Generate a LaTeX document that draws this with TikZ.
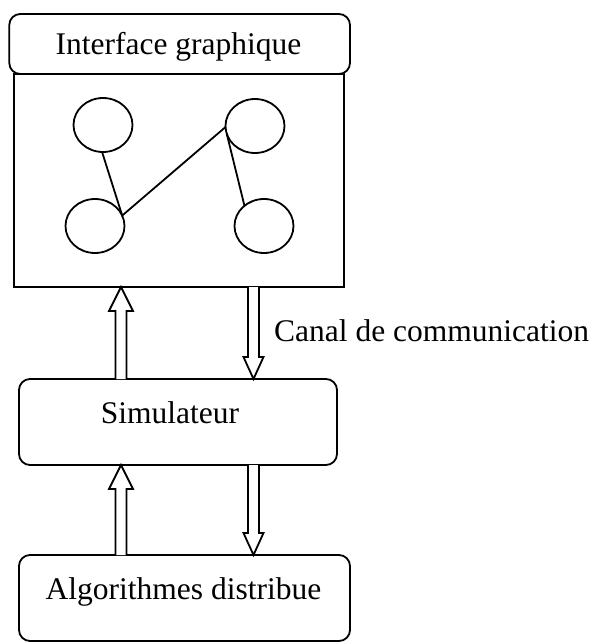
\documentclass[tikz,border=0pt]{standalone}
\usepackage{fontspec}
\setmainfont{Liberation Serif}
\usetikzlibrary{shapes.geometric,calc}
\tikzset{
  boxline/.style={draw, line width=1.8pt, inner sep=0pt, outer sep=0pt, fill=white},
  rbox/.style={boxline, rectangle, rounded corners=11pt},
  sbox/.style={boxline, rectangle},
  vert/.style={draw, ellipse, line width=1.8pt, inner sep=0pt, outer sep=0pt, minimum width=59pt, minimum height=54pt},
  edge/.style={draw, line width=1.8pt},
  harrow/.style={draw, line width=1.8pt, fill=white, line join=miter},
  lbl/.style={font=\fontsize{31.5}{36}\selectfont, inner sep=0pt, anchor=base}
}
\newcommand\arrUpward[2]{%
  \draw[harrow] let \p1=(#1), \p2=(#2) in
    (\x1-5.5pt,\y1) -- (\x1-5.5pt,\y2-24pt) -- (\x1-12pt,\y2-24pt) -- (\x2,\y2)
    -- (\x1+12pt,\y2-24pt) -- (\x1+5.5pt,\y2-24pt) -- (\x1+5.5pt,\y1);}
\newcommand\arrDownward[2]{%
  \draw[harrow] let \p1=(#1), \p2=(#2) in
    (\x1-5.5pt,\y1) -- (\x1-5.5pt,\y2+22pt) -- (\x1-10pt,\y2+22pt) -- (\x2,\y2)
    -- (\x1+10pt,\y2+22pt) -- (\x1+5.5pt,\y2+22pt) -- (\x1+5.5pt,\y1);}
\begin{document}
\begin{tikzpicture}[x=1pt,y=-1pt]
\useasboundingbox (0,0) rectangle (592,644);
% boxes
\node[sbox, minimum width=330pt, minimum height=213pt] (gui) at (179,180.5) {};
\node[rbox, minimum width=340.7pt, minimum height=60pt] (ig) at (179.65,44) {};
\node[lbl] (igtxt) at (178.5,55) {Interface graphique};
\node[rbox, minimum width=318pt, minimum height=86pt] (sim) at (178,422) {};
\node[lbl] (simtxt) at (170,423) {Simulateur};
\node[rbox, minimum width=331pt, minimum height=86pt] (alg) at (184.5,598) {};
\node[lbl] (algtxt) at (183.5,599) {Algorithmes distribue};
% graph
\node[vert] (e1) at (103,125) {};
\node[vert] (e2) at (95,226) {};
\node[vert] (e3) at (255,126) {};
\node[vert] (e4) at (264,226) {};
\draw[edge] (e1.-92) -- (e2.21) -- (e3.182);
\draw[edge] (e3.195) -- (e4.134);
% arrows
\coordinate (xl) at (121,0);
\coordinate (xr) at (253.5,0);
\arrUpward{xl |- sim.north}{xl |- gui.south}
\arrDownward{xr |- gui.south}{xr |- sim.north}
\arrUpward{xl |- alg.north}{xl |- sim.south}
\arrDownward{xr |- sim.south}{xr |- alg.north}
\node[lbl, anchor=base west] (canal) at (274,341) {Canal de communication};
\end{tikzpicture}
\end{document}
